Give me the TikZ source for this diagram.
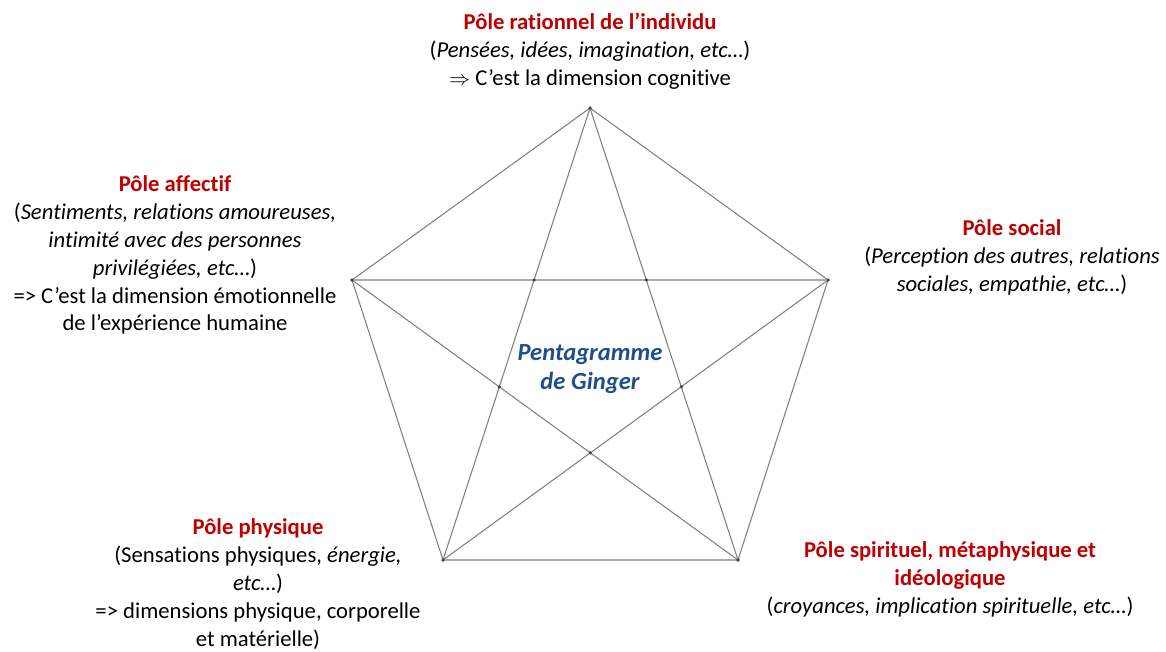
\documentclass[tikz,border=0pt]{standalone}
\usepackage{fontspec}
\setmainfont{Carlito}[Ligatures={NoCommon}]
\usetikzlibrary{positioning}
\definecolor{polered}{HTML}{C00000}
\definecolor{pentablue}{HTML}{1F4E8C}
\definecolor{edgegray}{HTML}{7F7F7F}
\newcommand{\poletitle}[1]{{\bfseries\color{polered}#1}}

\begin{document}
\begin{tikzpicture}[
  x=0.02cm,
  y=-0.02cm,
  every node/.style={font=\fontsize{12.9}{15.9}\selectfont, inner sep=0pt, align=center},
  edge/.style={edgegray, line width=0.6pt},
  dotfill/.style={fill=black!75}
]
  \useasboundingbox (0,0) rectangle (1166,652);

  % sommets du pentagone
  \coordinate (top) at (590,108);
  \coordinate (left) at (352,280);
  \coordinate (right) at (828,280);
  \coordinate (botleft) at (443,560);
  \coordinate (botright) at (738,560);

  % pentagone et etoile
  \draw[edge] (top) -- (right) -- (botright) -- (botleft) -- (left) -- cycle;
  \draw[edge] (top) -- (botleft);
  \draw[edge] (top) -- (botright);
  \draw[edge] (left) -- (botright);
  \draw[edge] (right) -- (botleft);
  \draw[edge, edgegray!65, line width=1pt] (left) -- (right);

  % petits points
  \foreach \p in {top,left,right,botleft,botright}
    \fill[dotfill] (\p) circle (1pt);
  \fill[dotfill] (intersection of left--right and top--botleft) circle (1pt);
  \fill[dotfill] (intersection of left--right and top--botright) circle (1pt);
  \fill[dotfill] (intersection of left--botright and top--botleft) circle (1pt);
  \fill[dotfill] (intersection of right--botleft and top--botright) circle (1pt);
  \fill[dotfill] (intersection of left--botright and right--botleft) circle (1pt);

  \node[text=pentablue, font=\fontsize{14}{16.4}\selectfont\bfseries\itshape] (ginger) at (590,369) {Pentagramme\\de Ginger};

  \node (rational) at (590,51) {\poletitle{Pôle rationnel de l’individu}\\(\textit{Pensées, idées, imagination, etc…})\\$\Rightarrow$ C’est la dimension cognitive};
  \node (affective) at (175,255) {\poletitle{Pôle affectif}\\(\textit{Sentiments, relations amoureuses,}\\\textit{intimité avec des personnes}\\\textit{privilégiées, etc…})\\=> C’est la dimension émotionnelle\\de l’expérience humaine};
  \node (social) at (1012,257) {\poletitle{Pôle social}\\(\textit{Perception des autres, relations}\\\textit{sociales, empathie, etc…})};
  \node (physical) at (258,584) {\poletitle{Pôle physique}\\(Sensations physiques, \textit{énergie,}\\\textit{etc…})\\=> dimensions physique, corporelle\\et matérielle)};
  \node (spiritual) at (950,579) {\poletitle{Pôle spirituel, métaphysique et}\\\poletitle{idéologique}\\(\textit{croyances, implication spirituelle, etc…})};
\end{tikzpicture}
\end{document}
